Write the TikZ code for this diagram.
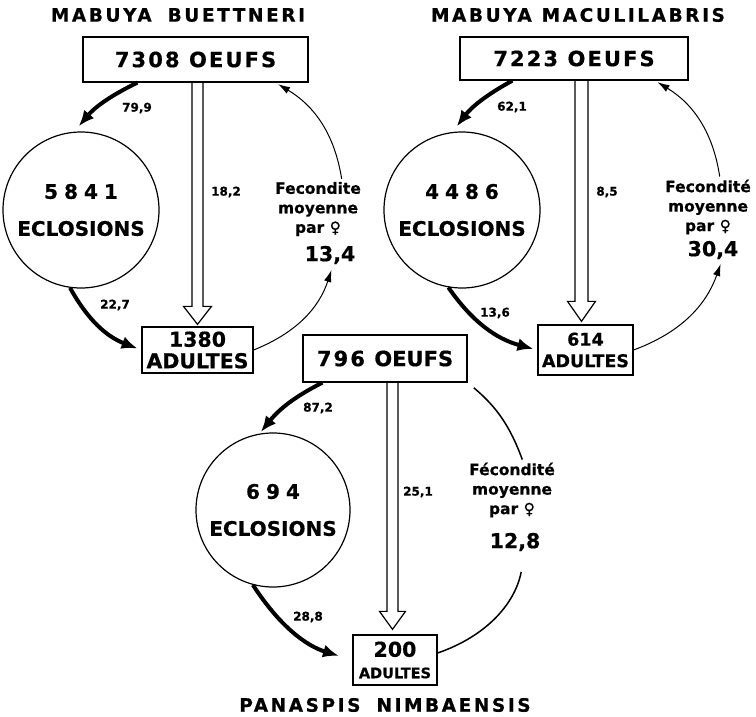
\documentclass[tikz,border=0pt]{standalone}
\usepackage{fontspec}
\setmainfont{DejaVu Sans}[BoldFeatures={FakeBold=0.6}]
\newfontfamily\titlefont{DejaVu Sans}[LetterSpace=14, BoldFeatures={FakeBold=0.6}]
\newfontfamily\spacedfont{DejaVu Sans}[LetterSpace=10, BoldFeatures={FakeBold=0.6}]
\newfontfamily\widefont{DejaVu Sans}[LetterSpace=30, BoldFeatures={FakeBold=0.6}]
\usetikzlibrary{arrows.meta, calc}
\newcommand{\fem}{♀}

\begin{document}
\begin{tikzpicture}[
                    % GLOBAL CFG
                    x=1pt, y=-1pt,
                    font=\bfseries,
                    >=Latex,
                    % Styles
                    title/.style={% species names
                            font=\titlefont\bfseries\fontsize{18.5}{20}\selectfont
                        },
                    eggbox/.style={% For the eggs
                            rectangle,
                            draw,
                            line width=1.3pt,
                            inner sep=0pt,
                            font=\spacedfont\bfseries\fontsize{21}{22}\selectfont
                        },
                    adbox/.style={% For the adults
                            rectangle,
                            draw,
                            line width=1.3pt,
                            inner sep=1pt,
                            align=center,
                            font=\bfseries\fontsize{20.5}{21.5}\selectfont
                        },
                    eclo/.style={% For the hatchings
                            circle,
                            draw,
                            line width=1.2pt,
                            minimum size=156pt,
                            inner sep=0pt,
                            align=center,
                            font=\bfseries\fontsize{20}{37}\selectfont
                        },
                    fec/.style={% fecundity text
                            align=center,
                            inner sep=1pt,
                            font=\bfseries\fontsize{15.5}{19.5}\selectfont
                        },
                    fecval/.style={%
                            inner sep=1pt,
                            font=\bfseries\fontsize{20.5}{22}\selectfont
                        },
                    rate/.style={% percentages
                            inner sep=1pt,
                            font=\bfseries\fontsize{12}{12}\selectfont
                        },
                    fatarrow/.style={%
                            line width=4pt,
                            -{Latex[length=16pt,width=13pt]},
                        },
                    thinarrow/.style={%
                            line width=1pt,
                            -{Latex[length=12pt,width=7.5pt]},
                        },
                    hollow/.style={% the white arrow
                            draw,
                            line width=1.2pt,
                            line join=miter,
                        },
                ]
                \useasboundingbox (0,0) rectangle (756,717);

                % Mabuya buettneri
                \node [title] (t1) at (178,15) {MABUYA\hspace{16pt}BUETTNERI};
                \node [eggbox, minimum width=225pt, minimum height=45pt] (egg1) at (195.5,59.5) {7308 OEUFS\hspace{10pt}};
                \node [eclo] (ecl1) at (81,210) {{\widefont\bfseries 5841}\\ECLOSIONS};
                \node [adbox, minimum width=111pt, minimum height=46pt] (ad1) at (197.5,350) {1380\\ADULTES};
                \node [fec] (fec1) at (318,209) {Fecondite\\moyenne\\par \fem};
                \node [fecval] (val1) at (330,255) {13,4};

                \draw [fatarrow, shorten >=7pt] ([xshift=55pt]egg1.south west) to[bend right=12] (ecl1.95);
                \draw [fatarrow, shorten >=4pt] (ecl1.262) to[bend right=20] (ad1.west);
                \draw [hollow] let \p1=(egg1.south -| ad1.north), \p2=(ad1.north) in
                    (\x1-5.5pt,\y1) -- (\x1-5.5pt,\y2+20pt) -- (\x1-14pt,\y2+20pt) -- (\x1,\y2+2pt)
                    -- (\x1+14pt,\y2+20pt) -- (\x1+5.5pt,\y2+20pt) -- (\x1+5.5pt,\y1);
                \draw [thinarrow, shorten >=5pt] (ad1.east) to[bend right=25] ([xshift=3pt]val1.south);
                \draw [thinarrow, shorten <=2pt, shorten >=3pt] ([xshift=24pt]fec1.north) to[bend right=25] ([xshift=80pt]egg1.south);

                \node [rate] (r11) at (137,108) {79,9};
                \node [rate] (r12) at (115,305) {22,7};
                \node [rate] (r13) at (226,192) {18,2};

                % Mabuya maculilabris
                \node [title] (t2) at (578,15) {MABUYA\hspace{10pt}MACULILABRIS};
                \node [eggbox, minimum width=228pt, minimum height=43pt] (egg2) at (574,58.5) {7223 OEUFS};
                \node [eclo] (ecl2) at (462,210) {{\widefont\bfseries 4486}\\ECLOSIONS};
                \node [adbox, minimum width=95pt, minimum height=50pt, font=\bfseries\fontsize{17.5}{21.5}\selectfont] (ad2) at (585.5,350) {614\\ADULTES};
                \node [fec] (fec2) at (708,207) {Fecondité\\moyenne\\par \fem};
                \node [fecval] (val2) at (713,250) {30,4};

                \draw [fatarrow, shorten >=7pt] ([xshift=53pt]egg2.south west) to[bend right=12] (ecl2.97);
                \draw [fatarrow, shorten >=4pt] (ecl2.260) to[bend right=20] (ad2.west);
                \draw [hollow] let \p1=(egg2.south -| 581.5,0), \p2=(ad2.north) in
                    (\x1-6.5pt,\y1) -- (\x1-6.5pt,\y2+23pt) -- (\x1-14pt,\y2+23pt) -- (\x1,\y2+3pt)
                    -- (\x1+14pt,\y2+23pt) -- (\x1+6.5pt,\y2+23pt) -- (\x1+6.5pt,\y1);
                \draw [thinarrow, shorten >=4pt] (ad2.east) to[bend right=25] ([xshift=9pt]val2.south);
                \draw [thinarrow, shorten <=2pt, shorten >=3pt] ([xshift=12pt]fec2.north) to[bend right=25] ([xshift=81pt]egg2.south);

                \node [rate] (r21) at (512,107) {62,1};
                \node [rate] (r22) at (495,313) {13,6};
                \node [rate] (r23) at (607,192) {8,5};

                % Panaspis nimbaensis
                \node [title] (t3) at (385,705) {PANASPIS\hspace{16pt}NIMBAENSIS};
                \node [eggbox, minimum width=164pt, minimum height=47pt] (egg3) at (385,358.5) {796 {\rmfamily\bfseries OEUFS}};
                \node [eclo, minimum size=154pt] (ecl3) at (273,510) {{\widefont\bfseries 694}\\ECLOSIONS};
                \node [adbox, minimum width=84pt, minimum height=50pt] (ad3) at (395,660) {200\\{\fontsize{14.5}{16}\selectfont ADULTES}};
                \node [fec] (fec3) at (512,490) {Fécondité\\moyenne\\par \fem};
                \node [fecval] (val3) at (515,542) {12,8};

                \draw [fatarrow, shorten >=2pt] ([xshift=20pt]egg3.south west) to[bend right=12] (ecl3.100);
                \draw [fatarrow, shorten >=14pt] (ecl3.255) to[bend right=20] (ad3.west);
                \draw [hollow] let \p1=(egg3.south -| 392.5,0), \p2=(ad3.north) in
                    (\x1-5.5pt,\y1) -- (\x1-5.5pt,\y2+23pt) -- (\x1-13pt,\y2+23pt) -- (\x1,\y2+5pt)
                    -- (\x1+13pt,\y2+23pt) -- (\x1+5.5pt,\y2+23pt) -- (\x1+5.5pt,\y1);
                \draw [line width=1.5pt, shorten >=20pt] ([yshift=7pt]ad3.east) to[bend right=30] ([xshift=10pt]val3.south);
                \draw [line width=1.5pt, shorten <=2pt, shorten >=8pt] ([xshift=11pt]fec3.north) to[bend right=15] (egg3.south east);

                \node [rate] (r31) at (318,408) {87,2};
                \node [rate] (r32) at (308,617) {28,8};
                \node [rate] (r33) at (418,492) {25,1};

            \end{tikzpicture}
\end{document}
